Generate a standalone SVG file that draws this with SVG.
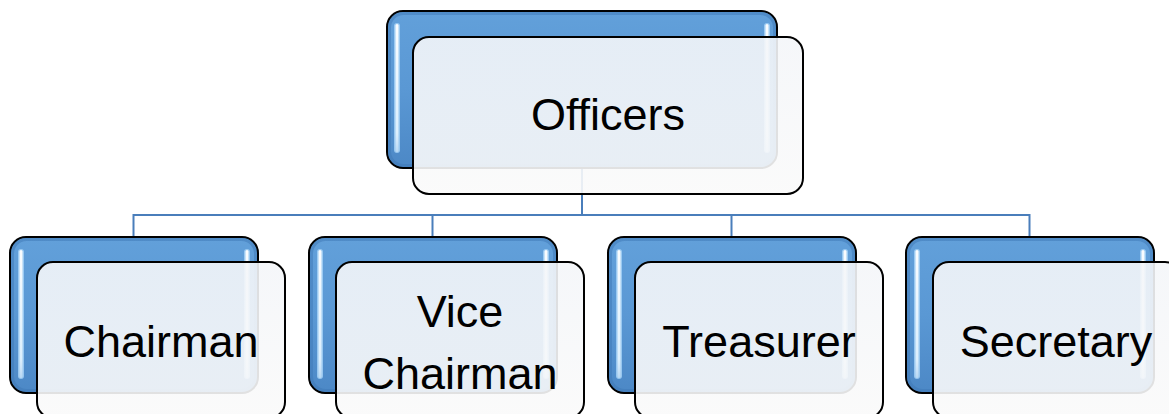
<svg xmlns="http://www.w3.org/2000/svg" width="1169" height="414" viewBox="0 0 1169 414">
<defs>
<linearGradient id="blue" x1="0" y1="0" x2="0" y2="1">
<stop offset="0" stop-color="#62A0DA"/>
<stop offset="0.5" stop-color="#5A98D4"/>
<stop offset="1" stop-color="#4C88C6"/>
</linearGradient>
<linearGradient id="hl" x1="0" y1="0" x2="0" y2="1">
<stop offset="0" stop-color="#FFFFFF" stop-opacity="0.95"/>
<stop offset="0.85" stop-color="#E8F6FF" stop-opacity="0.85"/>
<stop offset="1" stop-color="#FFFFFF" stop-opacity="0.3"/>
</linearGradient>
<linearGradient id="front" x1="0" y1="0" x2="0" y2="1">
<stop offset="0" stop-color="#F4F6F9"/>
<stop offset="1" stop-color="#FAFAFA"/>
</linearGradient>
</defs>
<style>
.back{fill:url(#blue);stroke:#000;stroke-width:2}
.bevel{fill:none;stroke:#3E78B5;stroke-width:3;stroke-opacity:0.5}
.glow{fill:#A9D4F7;fill-opacity:0.8}
.hl{fill:url(#hl)}
.front{fill:url(#front);fill-opacity:0.9;stroke:#000;stroke-width:2}
.lbl{font-family:"Liberation Sans",Arial,sans-serif;font-size:45px;fill:#000;text-anchor:middle}
.conn{fill:none;stroke:#4A7EBB;stroke-width:2}
</style>
<rect width="1169" height="414" fill="#FFFFFF"/>
<g id="connectors">
<path class="conn" d="M582 150 V215" stroke-width="3.5"/>
<path class="conn" d="M133.5 237 V215 H1029.5 V237"/>
<path class="conn" d="M432.5 215 V237 M731.5 215 V237"/>
</g>
<g id="node-officers">
<rect class="back" x="387" y="11" width="390" height="157" rx="16"/>
<rect class="bevel" x="389.5" y="13.5" width="385" height="152" rx="14"/>
<rect class="glow" x="394" y="23" width="6" height="130" rx="3"/>
<rect class="hl" x="395.5" y="24" width="3" height="128" rx="1.5"/>
<rect class="glow" x="764" y="23" width="6" height="130" rx="3"/>
<rect class="hl" x="765.5" y="24" width="3" height="128" rx="1.5"/>
<rect class="front" x="413" y="37" width="390" height="157" rx="16"/>
<text class="lbl" x="608" y="130">Officers</text>
</g>
<g id="node-chairman">
<rect class="back" x="10" y="237" width="248" height="156" rx="16"/>
<rect class="bevel" x="12.5" y="239.5" width="243" height="151" rx="14"/>
<rect class="glow" x="18" y="249" width="6" height="130" rx="3"/>
<rect class="hl" x="19.5" y="250" width="3" height="128" rx="1.5"/>
<rect class="glow" x="244" y="249" width="6" height="130" rx="3"/>
<rect class="hl" x="245.5" y="250" width="3" height="128" rx="1.5"/>
<rect class="front" x="37" y="262" width="248" height="156" rx="16"/>
<text class="lbl" x="161" y="357">Chairman</text>
</g>
<g id="node-vice-chairman">
<rect class="back" x="309" y="237" width="248" height="156" rx="16"/>
<rect class="bevel" x="311.5" y="239.5" width="243" height="151" rx="14"/>
<rect class="glow" x="317" y="249" width="6" height="130" rx="3"/>
<rect class="hl" x="318.5" y="250" width="3" height="128" rx="1.5"/>
<rect class="glow" x="543" y="249" width="6" height="130" rx="3"/>
<rect class="hl" x="544.5" y="250" width="3" height="128" rx="1.5"/>
<rect class="front" x="336" y="262" width="248" height="156" rx="16"/>
<text class="lbl" x="460" y="327">Vice</text>
<text class="lbl" x="460" y="389">Chairman</text>
</g>
<g id="node-treasurer">
<rect class="back" x="608" y="237" width="248" height="156" rx="16"/>
<rect class="bevel" x="610.5" y="239.5" width="243" height="151" rx="14"/>
<rect class="glow" x="616" y="249" width="6" height="130" rx="3"/>
<rect class="hl" x="617.5" y="250" width="3" height="128" rx="1.5"/>
<rect class="glow" x="842" y="249" width="6" height="130" rx="3"/>
<rect class="hl" x="843.5" y="250" width="3" height="128" rx="1.5"/>
<rect class="front" x="635" y="262" width="248" height="156" rx="16"/>
<text class="lbl" x="759" y="357">Treasurer</text>
</g>
<g id="node-secretary">
<rect class="back" x="906" y="237" width="248" height="156" rx="16"/>
<rect class="bevel" x="908.5" y="239.5" width="243" height="151" rx="14"/>
<rect class="glow" x="914" y="249" width="6" height="130" rx="3"/>
<rect class="hl" x="915.5" y="250" width="3" height="128" rx="1.5"/>
<rect class="glow" x="1140" y="249" width="6" height="130" rx="3"/>
<rect class="hl" x="1141.5" y="250" width="3" height="128" rx="1.5"/>
<rect class="front" x="933" y="262" width="248" height="156" rx="16"/>
<text class="lbl" x="1056" y="357">Secretary</text>
</g>
</svg>
